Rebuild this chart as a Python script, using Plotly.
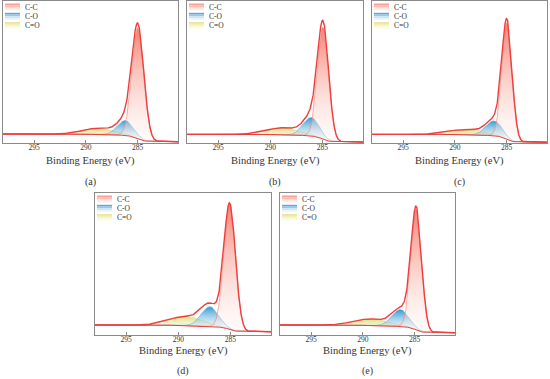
import numpy as np
import plotly.graph_objects as go

# ---------------- data ----------------
panel_labels = ["(a)", "(b)", "(c)", "(d)", "(e)"]
component_names = ["C-C", "C-O", "C=O"]
tick_values = [295, 290, 285]
x_title = "Binding Energy (eV)"
energy_range = [298.0, 281.1]          # reversed binding-energy axis

# fitted peak parameters per panel (centre eV, height above background in % of frame, FWHM eV)
cc_center = [284.97, 284.93, 284.97, 285.07, 284.84]
co_center = [286.16, 286.07, 286.22, 286.96, 286.36]
c2o_center = [288.70, 288.76, 288.90, 289.25, 289.27]
cc_height = [78.0, 79.0, 82.0, 88.0, 85.0]
co_height = [10.5, 13.0, 10.5, 14.0, 12.0]
c2o_height = [4.5, 5.0, 4.0, 6.5, 4.6]
cc_fwhm = [1.35, 1.25, 1.15, 1.30, 1.20]
co_fwhm = [1.80, 1.80, 1.80, 1.90, 1.90]
c2o_fwhm = [3.6, 3.6, 3.6, 3.8, 3.8]
# Shirley background levels (high-BE side, low-BE side)
bg_high = [6.3, 6.1, 6.1, 7.0, 7.0]
bg_low = [0.9, 0.7, 0.5, 2.3, 1.6]

# ---------------- layout geometry (pixels) ----------------
W, H = 550, 379
boxes = [(3, 178, 1, 143), (187, 363, 1, 143), (372, 547, 1, 143),
         (95, 271, 193, 335), (280, 455, 193, 335)]
title_y = [161, 161, 161, 351, 351]
label_y = [182, 182, 182, 371, 371]

SERIF = "Liberation Serif"
env_color = "rgb(238,62,62)"
fill_scales = [
    [[0, "rgba(255,240,236,0.25)"], [1, "rgba(242,118,100,0.92)"]],
    [[0, "rgba(240,248,252,0.25)"], [1, "rgba(40,148,210,0.95)"]],
    [[0, "rgba(252,252,238,0.25)"], [1, "rgba(222,222,120,0.92)"]],
]
edge_colors = ["rgba(242,130,110,0.9)", "rgba(90,170,220,0.8)", "rgba(215,215,120,0.8)"]
swatch_cols = [
    [(248, 160, 148), (251, 190, 180), (253, 218, 212), (254, 238, 235)],
    [(90, 170, 222), (150, 200, 235), (200, 228, 245), (235, 245, 252)],
    [(232, 228, 150), (240, 238, 185), (247, 246, 215), (252, 252, 238)],
]


def gauss(e, c, h, fw):
    s = fw / 2.3548
    return h * np.exp(-((e - c) ** 2) / (2 * s * s))


E = np.linspace(min(energy_range), max(energy_range), 900)
dE = E[1] - E[0]

fig = go.Figure()
layout = dict(width=W, height=H, margin=dict(l=0, r=0, t=0, b=0),
              paper_bgcolor="white", plot_bgcolor="white", showlegend=False,
              font=dict(family=SERIF))
shapes, annotations = [], []

for i in range(5):
    l, r, t, b = boxes[i]
    xs = "" if i == 0 else str(i + 1)
    xa, ya = "x" + xs, "y" + xs
    comps = [gauss(E, cc_center[i], cc_height[i], cc_fwhm[i]),
             gauss(E, co_center[i], co_height[i], co_fwhm[i]),
             gauss(E, c2o_center[i], c2o_height[i], c2o_fwhm[i])]
    total = comps[0] + comps[1] + comps[2]
    cum = np.cumsum(total) * dE
    bg = bg_low[i] + (bg_high[i] - bg_low[i]) * cum / cum[-1]

    # components: C=O, C-O, C-C (C-C on top)
    for k in [2, 1, 0]:
        fig.add_trace(go.Scatter(x=E, y=bg, mode="lines", line=dict(width=0),
                                 hoverinfo="skip", xaxis=xa, yaxis=ya))
        fig.add_trace(go.Scatter(x=E, y=bg + comps[k], mode="lines",
                                 line=dict(width=0.7, color=edge_colors[k]),
                                 fill="tonexty",
                                 fillgradient=dict(type="vertical", colorscale=fill_scales[k]),
                                 name=component_names[k], xaxis=xa, yaxis=ya))
    fig.add_trace(go.Scatter(x=E, y=bg, mode="lines", line=dict(width=1, color=env_color),
                             xaxis=xa, yaxis=ya))
    fig.add_trace(go.Scatter(x=E, y=bg + total, mode="lines",
                             line=dict(width=1.4, color=env_color), xaxis=xa, yaxis=ya))

    xd = [l / W, r / W]
    yd = [1 - b / H, 1 - t / H]
    layout["xaxis" + xs] = dict(domain=xd, range=energy_range, anchor=ya,
                                showgrid=False, zeroline=False, showline=True, mirror=True,
                                linecolor="#8a8a8a", linewidth=1,
                                ticks="inside", ticklen=3, tickcolor="#8a8a8a",
                                tickvals=tick_values, ticklabelstandoff=-3,
                                tickfont=dict(family=SERIF, size=7.5, color="#333"))
    layout["yaxis" + xs] = dict(domain=yd, range=[0, 100], anchor=xa,
                                showgrid=False, zeroline=False, showline=True, mirror=True,
                                linecolor="#8a8a8a", linewidth=1,
                                showticklabels=False, ticks="")

    cx = (l + r) / 2 / W
    annotations.append(dict(x=cx, y=1 - title_y[i] / H, xref="paper", yref="paper",
                            text=x_title, showarrow=False, xanchor="center", yanchor="middle",
                            font=dict(family=SERIF, size=10.5, color="#333")))
    annotations.append(dict(x=cx, y=1 - label_y[i] / H, xref="paper", yref="paper",
                            text=panel_labels[i], showarrow=False, xanchor="center",
                            yanchor="middle", font=dict(family=SERIF, size=10, color="#333")))

    # manual legend with gradient swatches
    for k in range(3):
        top = t + 2.5 + 9.3 * k
        sh = 7.0
        nstrip = len(swatch_cols[k])
        for s in range(nstrip):
            y0 = top + sh * s / nstrip
            y1 = top + sh * (s + 1) / nstrip
            c = swatch_cols[k][s]
            shapes.append(dict(type="rect", xref="paper", yref="paper",
                               x0=(l + 2) / W, x1=(l + 17) / W,
                               y0=1 - y1 / H, y1=1 - y0 / H,
                               line=dict(width=0), fillcolor="rgb(%d,%d,%d)" % c))
        annotations.append(dict(x=(l + 19.5) / W, y=1 - (top + sh / 2) / H,
                                xref="paper", yref="paper", text=component_names[k],
                                showarrow=False, xanchor="left", yanchor="middle",
                                font=dict(family=SERIF, size=7.5, color="#333")))

layout["shapes"] = shapes
layout["annotations"] = annotations
fig.update_layout(**layout)
fig.write_html("out.html", config={"displayModeBar": False},
               post_script="document.body.style.margin='0';document.body.style.overflow='hidden';")
